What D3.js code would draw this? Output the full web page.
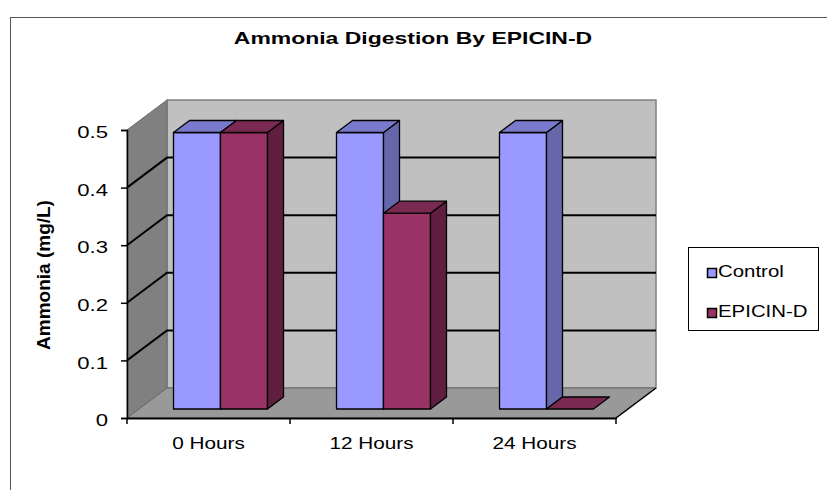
<!DOCTYPE html>
<html>
<head>
<meta charset="utf-8">
<script src="https://cdn.jsdelivr.net/npm/d3@7"></script>
<style>
  body { margin: 0; background: #fff; }
  text { font-family: "Liberation Sans", Arial, sans-serif; }
</style>
</head>
<body>
<div id="chart"></div>
<script>
const categories = ["0 Hours", "12 Hours", "24 Hours"];
const seriesNames = ["Control", "EPICIN-D"];
const controlValues = [0.48, 0.48, 0.48];
const epicinValues = [0.48, 0.34, 0];
const yTicks = [0, 0.1, 0.2, 0.3, 0.4, 0.5];

const seriesValues = [controlValues, epicinValues];
const faceColors = [
  { front: "#9999ff", top: "#7a7acc", side: "#6666aa" },
  { front: "#993366", top: "#7a2952", side: "#601f40" }
];

const W = 827, H = 490;
const svg = d3.select("#chart").append("svg")
  .attr("width", W)
  .attr("height", H);

// the source picture is a bit wide, so its text is stretched sideways
function stretch(sel, k) {
  sel.each(function() {
    const len = this.getComputedTextLength();
    d3.select(this).attr("textLength", len * k).attr("lengthAdjust", "spacingAndGlyphs");
  });
}

// outer chart border (runs off the page)
svg.append("rect")
  .attr("x", 10.5).attr("y", 17.5)
  .attr("width", W).attr("height", H)
  .attr("fill", "none")
  .attr("stroke", "#555");

// plot geometry
const x0 = 127, x1 = 616;
const DX = 40, DY = 30;          // depth offset of the back wall
const d0 = 0.3, d1 = 0.7;        // depth range of the bars

const x = d3.scaleBand().domain(categories).range([x0, x1]);
const y = d3.scaleLinear().domain([0, 0.5]).range([418, 130]);
const groupW = 94;
const inner = d3.scaleBand().domain(seriesNames).range([0, groupW]);

const P = (px, v, d) => [px + DX * d, y(v) - DY * d];
const poly = pts => "M" + pts.map(p => p.join(",")).join("L") + "Z";

// walls and floor
svg.append("path")
  .attr("d", poly([P(x0, 0, 1), P(x1, 0, 1), P(x1, 0.5, 1), P(x0, 0.5, 1)]))
  .attr("fill", "#c0c0c0").attr("stroke", "#808080").attr("stroke-width", 1.5);
svg.append("path")
  .attr("d", poly([P(x0, 0, 0), P(x0, 0, 1), P(x0, 0.5, 1), P(x0, 0.5, 0)]))
  .attr("fill", "#808080").attr("stroke", "#6a6a6a").attr("stroke-width", 1);
svg.append("path")
  .attr("d", poly([P(x0, 0, 0), P(x1, 0, 0), P(x1, 0, 1), P(x0, 0, 1)]))
  .attr("fill", "#999999").attr("stroke", "#6a6a6a").attr("stroke-width", 1);
svg.append("line")
  .attr("x1", P(x1, 0, 0)[0]).attr("y1", P(x1, 0, 0)[1])
  .attr("x2", P(x1, 0, 1)[0]).attr("y2", P(x1, 0, 1)[1])
  .attr("stroke", "#000").attr("stroke-width", 1.5);

// gridlines
const grid = svg.append("g").attr("stroke", "#000").attr("stroke-width", 2).attr("fill", "none");
yTicks.filter(v => v > 0 && v < 0.5).forEach(v => {
  grid.append("path").attr("d", "M" + P(x0, v, 0) + "L" + P(x0, v, 1) + "L" + P(x1, v, 1));
});

// bars, drawn left to right so neighbours hide side faces
const bars = svg.append("g").attr("stroke", "#000").attr("stroke-width", 1.3).attr("stroke-linejoin", "round");
categories.forEach((c, i) => {
  seriesNames.forEach((s, j) => {
    const v = seriesValues[j][i];
    const bx = x(c) + (x.bandwidth() - groupW) / 2 + inner(s);
    const bw = inner.bandwidth();
    const col = faceColors[j];
    if (v > 0) {
      bars.append("path").attr("fill", col.front)
        .attr("d", poly([P(bx, 0, d0), P(bx + bw, 0, d0), P(bx + bw, v, d0), P(bx, v, d0)]));
      bars.append("path").attr("fill", col.side)
        .attr("d", poly([P(bx + bw, 0, d0), P(bx + bw, 0, d1), P(bx + bw, v, d1), P(bx + bw, v, d0)]));
    }
    bars.append("path").attr("fill", col.top)
      .attr("d", poly([P(bx, v, d0), P(bx + bw, v, d0), P(bx + bw, v, d1), P(bx, v, d1)]));
  });
});

// y axis
const yAxis = svg.append("g")
  .attr("transform", `translate(${x0},0)`)
  .call(d3.axisLeft(y).tickValues(yTicks).tickSize(6).tickPadding(13)
    .tickFormat(d => d === 0 ? "0" : d3.format(".1f")(d)));
yAxis.select(".domain").attr("stroke", "#000").attr("stroke-width", 1.5);
yAxis.selectAll(".tick line").attr("stroke", "#000").attr("stroke-width", 1.5);
yAxis.selectAll("text").attr("font-size", 17).attr("fill", "#000").attr("dy", "0.45em")
  .attr("font-family", "Liberation Sans, Arial, sans-serif")
  .call(stretch, 1.3);

// x axis
const xAxis = svg.append("g")
  .attr("transform", `translate(0,${y(0)})`)
  .call(d3.axisBottom(x).tickSize(0).tickPadding(19));
xAxis.select(".domain").attr("stroke", "#000").attr("stroke-width", 2);
xAxis.selectAll("text").attr("font-size", 17).attr("fill", "#000")
  .attr("font-family", "Liberation Sans, Arial, sans-serif")
  .call(stretch, 1.22);
const bounds = categories.map(c => x(c)).concat([x1]);
xAxis.selectAll(".sep").data(bounds).join("line")
  .attr("class", "sep")
  .attr("x1", d => d).attr("x2", d => d)
  .attr("y1", 0).attr("y2", 6)
  .attr("stroke", "#000").attr("stroke-width", 1.5);

// title
svg.append("text")
  .attr("x", 413).attr("y", 44)
  .attr("text-anchor", "middle")
  .attr("font-size", 17).attr("font-weight", "bold")
  .text("Ammonia Digestion By EPICIN-D")
  .call(stretch, 1.35);

// y axis title
svg.append("text")
  .attr("transform", "translate(50,275) rotate(-90)")
  .attr("text-anchor", "middle")
  .attr("font-size", 19).attr("font-weight", "bold")
  .text("Ammonia (mg/L)");

// legend
const legend = svg.append("g").attr("transform", "translate(688,247)");
legend.append("rect")
  .attr("x", 0.5).attr("y", 0.5).attr("width", 130).attr("height", 83)
  .attr("fill", "#fff").attr("stroke", "#000");
seriesNames.forEach((s, j) => {
  const g = legend.append("g").attr("transform", `translate(19,${21 + j * 40})`);
  g.append("rect").attr("x", 0.5).attr("y", 0.5).attr("width", 9).attr("height", 9)
    .attr("fill", faceColors[j].front).attr("stroke", "#000").attr("stroke-width", 1.5);
  g.append("text").attr("x", 11).attr("y", 9)
    .attr("font-size", 17)
    .text(s)
    .call(stretch, 1.2);
});
</script>
</body>
</html>
